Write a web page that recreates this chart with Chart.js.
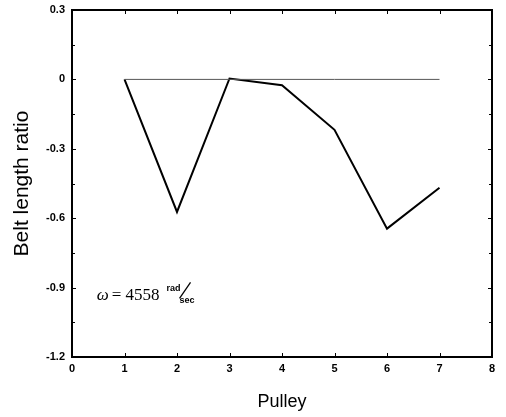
<!DOCTYPE html>
<html>
<head>
<meta charset="utf-8">
<script src="https://cdn.jsdelivr.net/npm/chart.js@4/dist/chart.umd.min.js"></script>
<style>
  html, body { margin: 0; padding: 0; background: #fff; }
  canvas { display: block; }
</style>
</head>
<body>
<canvas id="chart" width="506" height="417"></canvas>
<script>
// Pulley index and belt length ratio at each pulley
const pulleys = [1, 2, 3, 4, 5, 6, 7];
const beltRatio = [0, -0.573, 0.004, -0.025, -0.218, -0.645, -0.468];
const zeroRef = [0, 0, 0, 0, 0, 0, 0];
const xTickValues = [0, 1, 2, 3, 4, 5, 6, 7, 8];
const yLabelValues = [0.3, 0, -0.3, -0.6, -0.9, -1.2];

const SANS = '"Liberation Sans", Arial, sans-serif';
const SERIF = '"Liberation Serif", "Times New Roman", serif';

function isLabelled(v) {
  return yLabelValues.some(t => Math.abs(t - v) < 1e-6);
}

// Frame around the plot area with inward tick marks, plus the speed note
const framePlugin = {
  id: 'frame',
  afterDraw(chart) {
    const { ctx, chartArea: a, scales } = chart;
    const xs = scales.x, ys = scales.y;
    ctx.save();
    ctx.strokeStyle = '#000';
    ctx.lineWidth = 1;
    ctx.beginPath();
    xTickValues.forEach(v => {
      const px = Math.round(xs.getPixelForValue(v)) + 0.5;
      ctx.moveTo(px, a.bottom); ctx.lineTo(px, a.bottom - 4);
      ctx.moveTo(px, a.top); ctx.lineTo(px, a.top + 4);
    });
    ys.ticks.forEach(t => {
      const py = Math.round(ys.getPixelForValue(t.value)) + 0.5;
      const len = isLabelled(t.value) ? 4 : 3;
      ctx.moveTo(a.left, py); ctx.lineTo(a.left + len, py);
      ctx.moveTo(a.right, py); ctx.lineTo(a.right - len, py);
    });
    ctx.stroke();

    ctx.lineWidth = 2;
    ctx.strokeRect(a.left, a.top, a.right - a.left, a.bottom - a.top);

    // omega = 4558 rad/sec
    const x0 = xs.getPixelForValue(0.47);
    const yb = ys.getPixelForValue(-0.955);
    ctx.fillStyle = '#000';
    ctx.textBaseline = 'alphabetic';
    ctx.textAlign = 'left';
    ctx.font = 'italic 17px ' + SERIF;
    ctx.fillText('\u03C9', x0, yb);
    let x = x0 + ctx.measureText('\u03C9').width + 3;
    ctx.font = '17px ' + SERIF;
    ctx.fillText('= 4558', x, yb);
    x += ctx.measureText('= 4558').width + 7;
    ctx.font = 'bold 9px ' + SANS;
    ctx.fillText('rad', x, yb - 9);
    ctx.fillText('sec', x + 13, yb + 3);
    ctx.lineWidth = 1.3;
    ctx.beginPath();
    ctx.moveTo(x + 13, yb - 2);
    ctx.lineTo(x + 24, yb - 18);
    ctx.stroke();
    ctx.restore();
  }
};

new Chart(document.getElementById('chart'), {
  type: 'line',
  data: {
    datasets: [
      {
        data: pulleys.map((p, i) => ({ x: p, y: zeroRef[i] })),
        borderColor: '#555',
        borderWidth: 1,
        pointRadius: 0,
        tension: 0
      },
      {
        data: pulleys.map((p, i) => ({ x: p, y: beltRatio[i] })),
        borderColor: '#000',
        borderWidth: 2,
        pointRadius: 0,
        tension: 0
      }
    ]
  },
  options: {
    responsive: false,
    animation: false,
    devicePixelRatio: 1,
    layout: { padding: { top: 10, right: 14, left: 0, bottom: 0 } },
    plugins: { legend: { display: false }, tooltip: { enabled: false } },
    scales: {
      x: {
        type: 'linear',
        min: 0,
        max: 8,
        grid: { display: false, drawTicks: false },
        border: { display: false },
        ticks: {
          stepSize: 1,
          padding: 5,
          color: '#000',
          font: { family: SANS, size: 11, weight: 'bold' },
          callback: v => String(v)
        },
        title: {
          display: true,
          text: 'Pulley',
          color: '#000',
          font: { family: SANS, size: 18 },
          padding: { top: 0, bottom: 4 }
        },
        afterFit: s => { s.height = 60; s.paddingLeft = 0; s.paddingRight = 0; }
      },
      y: {
        type: 'linear',
        min: -1.2,
        max: 0.3,
        grid: { display: false, drawTicks: false },
        border: { display: false },
        ticks: {
          stepSize: 0.15,
          padding: 7,
          color: '#000',
          autoSkip: false,
          font: { family: SANS, size: 11, weight: 'bold' },
          callback: v => {
            if (!isLabelled(v)) return '';
            return Math.abs(v) < 1e-9 ? '0' : v.toFixed(1);
          }
        },
        title: {
          display: true,
          text: 'Belt length ratio',
          color: '#000',
          font: { family: SANS, size: 21 },
          padding: { top: 10, bottom: 0 }
        },
        afterFit: s => { s.width = 72; s.paddingTop = 0; s.paddingBottom = 0; }
      }
    }
  },
  plugins: [framePlugin]
});
</script>
</body>
</html>
